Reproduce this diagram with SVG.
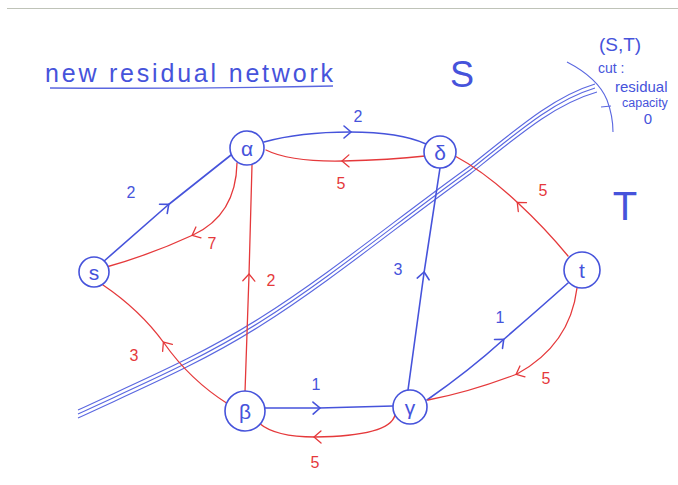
<svg xmlns="http://www.w3.org/2000/svg" width="678" height="485" viewBox="0 0 678 485">
  <defs>
    <style>
      .b{stroke:#4653db;fill:none;stroke-width:1.6;stroke-linecap:round;stroke-linejoin:round}
      .r{stroke:#e5393b;fill:none;stroke-width:1.3;stroke-linecap:round;stroke-linejoin:round}
      .cut{stroke:#5a67e0;fill:none;stroke-width:1.1}
      .node circle{fill:#fff;stroke:#4653db;stroke-width:1.6}
      .node text{font-family:"Liberation Sans",Arial,sans-serif;font-size:21px;fill:#4653db;text-anchor:middle;dominant-baseline:central}
      .lb{font-family:"Liberation Sans",Arial,sans-serif;font-size:16px;fill:#4653db;text-anchor:middle;dominant-baseline:central}
      .lr{font-family:"Liberation Sans",Arial,sans-serif;font-size:16px;fill:#e5393b;text-anchor:middle;dominant-baseline:central}
      .hand{font-family:"Liberation Sans",Arial,sans-serif;fill:#4653db}
    </style>
    <marker id="ab" viewBox="-10 -10 20 20" markerWidth="20" markerHeight="20" markerUnits="userSpaceOnUse" orient="auto">
      <path d="M-6,-6 L1,0 L-6,6" fill="none" stroke="#4653db" stroke-width="1.6" stroke-linecap="round"/>
    </marker>
    <marker id="ar" viewBox="-10 -10 20 20" markerWidth="20" markerHeight="20" markerUnits="userSpaceOnUse" orient="auto">
      <path d="M-6,-6 L1,0 L-6,6" fill="none" stroke="#e5393b" stroke-width="1.3" stroke-linecap="round"/>
    </marker>
  </defs>

  <rect width="678" height="485" fill="#ffffff"/>
  <!-- paper edge -->
  <line x1="7" y1="8.5" x2="678" y2="8.5" stroke="#bfc3b8" stroke-width="1"/>

  <!-- heading -->
  <text class="hand" x="45" y="82" font-size="25" textLength="288" lengthAdjust="spacing">new residual network</text>
  <path d="M50,88 Q190,89 333,86" stroke="#5a67e0" stroke-width="1.4" fill="none"/>

  <!-- side labels -->
  <text class="hand" x="462" y="87" font-size="36" text-anchor="middle">S</text>
  <text class="hand" x="625" y="220" font-size="40" text-anchor="middle">T</text>

  <!-- cut annotation -->
  <text class="hand" x="620" y="51" font-size="19" text-anchor="middle">(S,T)</text>
  <text class="hand" x="598" y="73" font-size="14">cut :</text>
  <text class="hand" x="615" y="92" font-size="15">residual</text>
  <text class="hand" x="622" y="107" font-size="12.5">capacity</text>
  <text class="hand" x="648" y="124" font-size="15" text-anchor="middle">0</text>

  <!-- cut line -->
  <g id="cut">
    <path class="cut" d="M78,410 C140,381 200,356 260,318 C330,274 400,216 470,166 C520,126 555,96 595,84"/>
    <path class="cut" d="M78,414 C140,385 200,360 260,322 C330,278 400,220 470,170 C520,130 555,100 595,88"/>
    <path class="cut" d="M78,418 C140,389 200,364 260,326 C330,282 400,224 470,174 C520,134 555,104 597,92"/>
    <path class="cut" d="M567,62 Q598,78 607,100 Q613,116 613,132" stroke-width="1.4"/>
    <path class="cut" d="M601,107 L611,106" stroke-width="1.4"/>
  </g>

  <!-- connectors -->
  <g id="edges">
    <!-- s -> alpha (2) -->
    <path class="b" d="M103,262 L168,205 L231,155" marker-mid="url(#ab)"/>
    <!-- alpha -> s (7) -->
    <path class="r" d="M237,163 Q236,215 193,235 Q150,255 103,268" marker-mid="url(#ar)"/>
    <!-- beta -> alpha (2) -->
    <path class="r" d="M245,392 L249,275 L252,165" marker-mid="url(#ar)"/>
    <!-- alpha -> delta (2) -->
    <path class="b" d="M264,142 Q300,132 350,132 Q400,132 426,144" marker-mid="url(#ab)"/>
    <!-- delta -> alpha (5) -->
    <path class="r" d="M425,156 Q390,160 343,161 Q290,162 266,150" marker-mid="url(#ar)"/>
    <!-- t -> delta (5) -->
    <path class="r" d="M568,256 Q545,228 518,203 Q485,172 455,156" marker-mid="url(#ar)"/>
    <!-- gamma -> delta (3) -->
    <path class="b" d="M408,390 L424,273 L440,168" marker-mid="url(#ab)"/>
    <!-- gamma -> t (1) -->
    <path class="b" d="M427,400 Q470,370 503,340 Q540,308 568,283" marker-mid="url(#ab)"/>
    <!-- t -> gamma (5) -->
    <path class="r" d="M577,288 Q570,345 517,374 Q470,392 428,400" marker-mid="url(#ar)"/>
    <!-- beta -> gamma (1) -->
    <path class="b" d="M265,408 L319,408 L393,406" marker-mid="url(#ab)"/>
    <!-- gamma -> beta (5) -->
    <path class="r" d="M395,415 Q390,436 315,437 Q275,437 259,423" marker-mid="url(#ar)"/>
    <!-- beta -> s (3) -->
    <path class="r" d="M228,404 Q190,380 164,343 Q140,310 103,285" marker-mid="url(#ar)"/>

    <!-- capacities -->
    <text class="lb" x="131" y="192">2</text>
    <text class="lr" x="212" y="243">7</text>
    <text class="lr" x="271" y="280">2</text>
    <text class="lb" x="358" y="116">2</text>
    <text class="lr" x="341" y="183">5</text>
    <text class="lr" x="543" y="190">5</text>
    <text class="lb" x="398" y="269">3</text>
    <text class="lb" x="500" y="317">1</text>
    <text class="lr" x="546" y="378">5</text>
    <text class="lb" x="316" y="384">1</text>
    <text class="lr" x="315" y="462">5</text>
    <text class="lr" x="134" y="355">3</text>
  </g>

  <!-- nodes -->
  <g id="node-s" class="node"><circle cx="94" cy="272" r="15"/><text x="94" y="272">s</text></g>
  <g id="node-alpha" class="node"><circle cx="247" cy="148" r="17"/><text x="247" y="148">α</text></g>
  <g id="node-delta" class="node"><circle cx="440" cy="152" r="16"/><text x="440" y="152">δ</text></g>
  <g id="node-t" class="node"><circle cx="582" cy="270" r="18"/><text x="582" y="270">t</text></g>
  <g id="node-beta" class="node"><circle cx="245" cy="411" r="20"/><text x="245" y="411">β</text></g>
  <g id="node-gamma" class="node"><circle cx="410" cy="407" r="17"/><text x="410" y="407">γ</text></g>
</svg>
